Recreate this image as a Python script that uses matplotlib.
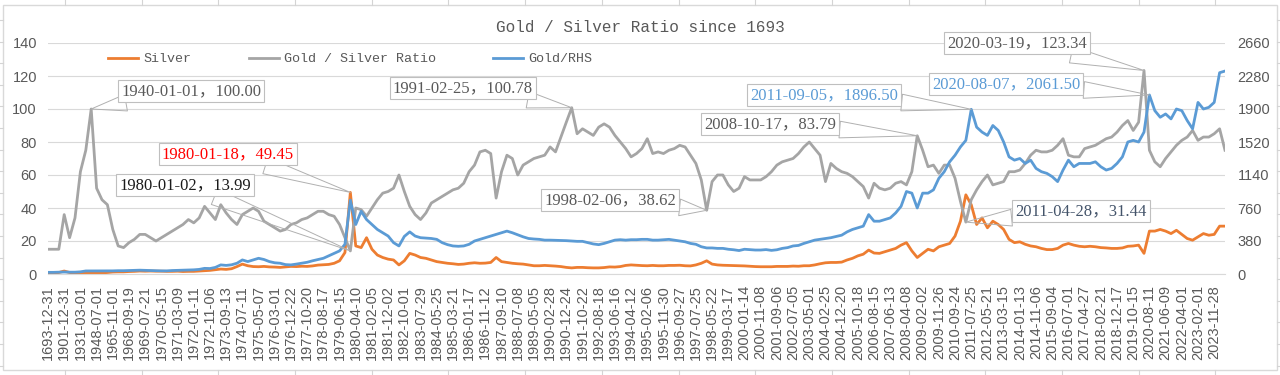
import matplotlib.pyplot as plt
import numpy as np
from matplotlib.lines import Line2D
from matplotlib.patches import Rectangle

plt.rcParams['font.family'] = ['Liberation Sans', 'Noto Sans CJK SC']

tick_labels = [
    "1693-12-31", "1901-12-31", "1931-03-01", "1948-07-01", "1965-11-01", "1968-09-19",
    "1969-07-21", "1970-05-15", "1971-03-09", "1972-01-11", "1972-11-06", "1973-09-13",
    "1974-07-11", "1975-05-07", "1976-03-01", "1976-12-22", "1977-10-20", "1978-08-17",
    "1979-06-15", "1980-04-10", "1981-02-05", "1981-12-02", "1982-10-01", "1983-07-29",
    "1984-05-25", "1985-03-21", "1986-01-17", "1986-11-12", "1987-09-10", "1988-07-08",
    "1989-05-05", "1990-02-28", "1990-12-24", "1991-10-22", "1992-08-18", "1993-06-16",
    "1994-04-12", "1995-02-06", "1995-11-30", "1996-09-27", "1997-07-25", "1998-05-22",
    "1999-03-17", "2000-01-14", "2000-11-08", "2001-09-06", "2002-07-05", "2003-05-01",
    "2004-02-25", "2004-12-20", "2005-10-18", "2006-08-15", "2007-06-13", "2008-04-08",
    "2009-02-02", "2009-11-26", "2010-09-24", "2011-07-25", "2012-05-21", "2013-03-15",
    "2014-01-13", "2014-11-06", "2015-09-04", "2016-07-01", "2017-04-27", "2018-02-21",
    "2018-12-17", "2019-10-15", "2020-08-11", "2021-06-09", "2022-04-01", "2023-02-01",
    "2023-11-28",
]

# values, three readings per labelled category
silver = [
    0.8, 0.8, 0.9, 1.8, 0.9, 0.6, 0.5, 0.4, 0.4, 0.5, 0.7, 0.9,
    1.2, 1.3, 1.3, 1.5, 1.6, 1.8, 1.7, 1.8, 1.7, 1.7, 1.6, 1.6,
    1.7, 1.5, 1.6, 1.6, 1.8, 2.0, 2.2, 2.6, 3.0, 2.8, 3.2, 4.5,
    6.0, 5.0, 4.5, 4.4, 4.6, 4.3, 4.2, 4.0, 4.3, 4.6, 4.5, 4.7,
    4.6, 4.9, 5.4, 5.6, 5.8, 6.5, 8.0, 13.0, 49.45, 17.0, 16.0, 22.0,
    15.0, 11.5, 10.0, 9.0, 8.5, 5.5, 8.0, 12.5, 11.5, 10.0, 9.5, 8.5,
    7.5, 7.0, 6.5, 6.2, 5.8, 6.0, 6.5, 6.8, 6.5, 6.6, 7.0, 10.0,
    7.5, 7.0, 6.5, 6.2, 6.0, 5.5, 5.0, 5.0, 5.2, 5.0, 4.8, 4.5,
    4.0, 3.7, 4.0, 4.0, 3.8, 3.7, 3.7, 3.9, 4.3, 4.2, 4.5, 5.2,
    5.5, 5.3, 5.1, 5.0, 5.2, 5.0, 5.0, 5.2, 5.2, 5.3, 5.0, 4.9,
    5.5, 6.5, 8.0, 6.0, 5.5, 5.3, 5.2, 5.1, 5.0, 4.9, 4.7, 4.5,
    4.4, 4.4, 4.4, 4.6, 4.6, 4.6, 4.8, 4.7, 5.0, 5.0, 5.5, 6.2,
    6.8, 7.0, 7.0, 7.2, 8.5, 9.5, 11.0, 12.0, 14.5, 12.7, 12.5, 13.5,
    14.5, 15.5, 17.5, 19.0, 14.0, 10.0, 12.5, 15.0, 14.0, 16.5, 17.5, 18.5,
    23.0, 32.0, 48.0, 42.0, 30.0, 34.0, 28.0, 32.0, 30.0, 27.0, 21.0, 19.0,
    19.5, 18.0, 17.0, 16.5, 15.5, 14.8, 14.8, 15.5, 17.5, 18.5, 17.5, 16.8,
    16.5, 16.8, 16.5, 16.0, 15.8, 15.5, 15.5, 15.8, 16.8, 17.0, 17.5, 12.5,
    26.0, 26.0, 27.0, 26.0, 24.5, 26.5, 24.0, 21.5, 20.5, 22.5, 24.5, 23.5,
    24.0, 29.0, 29.0,
]

ratio = [
    15, 15, 15, 36, 22, 34, 62, 75, 100.00, 52, 45, 42,
    27, 17, 16, 19, 21, 24, 24, 22, 20, 22, 24, 26,
    28, 30, 33, 31, 34, 41, 37, 33, 42, 37, 33, 30,
    36, 38, 40, 38, 32, 30, 28, 26, 27, 30, 31, 33,
    34, 36, 38, 38, 36, 35, 30, 22, 13.99, 40, 39, 35,
    40, 45, 49, 50, 52, 60, 50, 41, 36, 33, 37, 43,
    45, 47, 49, 51, 52, 55, 62, 66, 74, 75, 73, 46,
    62, 72, 70, 60, 66, 68, 70, 71, 72, 77, 74, 83,
    92, 100.78, 85, 88, 86, 84, 89, 91, 89, 84, 80, 76,
    71, 73, 76, 82, 73, 74, 73, 75, 76, 78, 77, 72,
    67, 57, 38.62, 56, 60, 60, 54, 50, 52, 59, 57, 57,
    57, 59, 62, 66, 68, 69, 70, 73, 77, 80, 76, 72,
    56, 67, 64, 62, 61, 59, 56, 53, 46, 55, 52, 51,
    52, 55, 56, 54, 62, 83.79, 75, 65, 66, 61, 66, 66,
    58, 44, 31.44, 45, 51, 56, 60, 54, 55, 56, 62, 62,
    63, 67, 72, 75, 74, 74, 75, 78, 82, 72, 71, 71,
    76, 77, 78, 80, 82, 83, 86, 90, 93, 87, 92, 123.34,
    75, 68, 65, 70, 74, 78, 81, 83, 87, 81, 83, 83,
    85, 88, 75,
]

gold = [
    19, 19, 21, 23, 21, 21, 25, 35, 35, 35, 35, 35,
    36, 38, 38, 40, 42, 44, 42, 40, 38, 36, 36, 40,
    42, 44, 46, 48, 53, 65, 63, 76, 105, 99, 106, 124,
    162, 143, 162, 181, 167, 143, 129, 124, 108, 105, 114, 125,
    135, 152, 167, 181, 209, 238, 266, 342, 851, 570, 722, 627,
    570, 513, 475, 437, 361, 323, 433, 485, 437, 418, 414, 409,
    399, 361, 338, 323, 319, 323, 342, 380, 399, 418, 437, 456,
    475, 494, 475, 452, 428, 409, 403, 399, 390, 390, 388, 386,
    384, 380, 376, 376, 361, 346, 338, 352, 371, 390, 395, 390,
    395, 395, 399, 399, 390, 390, 395, 399, 390, 380, 371, 352,
    342, 314, 300, 300, 295, 295, 285, 279, 270, 285, 281, 276,
    276, 281, 272, 279, 295, 304, 323, 329, 352, 371, 390, 399,
    409, 418, 433, 447, 485, 513, 532, 551, 684, 608, 608, 627,
    646, 703, 779, 950, 931, 760, 931, 931, 969, 1102, 1178, 1292,
    1368, 1463, 1539, 1896.50, 1691, 1634, 1596, 1710, 1653, 1520, 1349, 1311,
    1330, 1273, 1311, 1216, 1178, 1159, 1121, 1064, 1197, 1311, 1235, 1273,
    1273, 1273, 1292, 1235, 1197, 1216, 1273, 1349, 1520, 1539, 1520, 1634,
    2061.50, 1881, 1805, 1843, 1786, 1900, 1881, 1767, 1672, 1976, 1900, 1919,
    1976, 2318, 2337,
]

# labelled points: (series, sample index, date)
notes = [
    ("ratio", 8, "1940-01-01"),
    ("silver", 56, "1980-01-18"),
    ("ratio", 56, "1980-01-02"),
    ("ratio", 97, "1991-02-25"),
    ("ratio", 122, "1998-02-06"),
    ("ratio", 161, "2008-10-17"),
    ("gold", 171, "2011-09-05"),
    ("ratio", 203, "2020-03-19"),
    ("gold", 204, "2020-08-07"),
    ("ratio", 170, "2011-04-28"),
]
# label box centres (pixels from top-left) and text colours
note_boxes = [(191, 91), (228, 154), (185, 185), (463, 88), (610, 200),
              (770, 124), (824, 95), (1017, 43), (1006, 84), (1081, 211)]
note_colors = ["#595959", "#ff0000", "#1a1a1a", "#595959", "#595959",
               "#595959", "#5b9bd5", "#595959", "#5b9bd5", "#44546a"]

x = np.arange(len(ratio)) / 3
W, H = 1280, 375

fig = plt.figure(figsize=(W / 100, H / 100), dpi=100)

# spreadsheet cells peeking around the chart
for cx in np.arange(65, W, 76.7):
    fig.add_artist(Line2D([cx / W] * 2, [1, 1 - 5 / H], color="#d4d4d4", lw=0.8))
    fig.add_artist(Line2D([cx / W] * 2, [0, 5 / H], color="#d4d4d4", lw=0.8))
for ry in np.arange(20, H, 21.6):
    fig.add_artist(Line2D([0, 3 / W], [1 - ry / H] * 2, color="#d4d4d4", lw=0.8))
    fig.add_artist(Line2D([1 - 3 / W, 1], [1 - ry / H] * 2, color="#d4d4d4", lw=0.8))
fig.add_artist(Rectangle((3 / W, 5 / H), 1274 / W, 365 / H, transform=fig.transFigure,
                         fill=False, ec="#d9d9d9", lw=1))

ax = fig.add_axes([48 / W, 1 - 274 / H, (1225 - 48) / W, (274 - 43) / H])
ax2 = ax.twinx()

l_silver, = ax.plot(x, silver, color="#ed7d31", lw=2, label="Silver")
l_ratio, = ax.plot(x, ratio, color="#a5a5a5", lw=2, label="Gold / Silver Ratio")
l_gold, = ax2.plot(x, gold, color="#5b9bd5", lw=2, label="Gold/RHS")

ax.set_xlim(0, x[-1])
ax.set_ylim(0, 140)
ax2.set_ylim(0, 2660)
ax.set_yticks(range(0, 141, 20))
ax2.set_yticks(range(0, 2661, 380))
ax.set_xticks(range(len(tick_labels)))
ax.set_xticklabels(tick_labels, rotation=90)

ax.grid(axis="y", color="#d9d9d9", lw=0.8)
ax.set_axisbelow(True)
for s in ["top", "left", "right"]:
    ax.spines[s].set_visible(False)
ax.spines["bottom"].set_color("#d9d9d9")
for s in ax2.spines.values():
    s.set_visible(False)

ax.tick_params(axis="x", length=0, pad=8, labelsize=10.5, labelcolor="#595959")
ax.tick_params(axis="y", length=0, pad=8, labelsize=10.5, labelcolor="#595959")
ax2.tick_params(axis="y", length=0, pad=9, labelsize=10.5, labelcolor="#595959")

fig.text(0.5, 1 - 27 / H, "Gold / Silver Ratio since 1693", ha="center", va="center",
         family="Liberation Mono", size=11.5, color="#595959")

ax2.legend([l_silver, l_ratio, l_gold], ["Silver", "Gold / Silver Ratio", "Gold/RHS"],
           ncol=3, loc="center left", bbox_to_anchor=(108 / W, 1 - 59 / H),
           bbox_transform=fig.transFigure, frameon=False,
           prop=dict(family="Liberation Mono", size=9.6), labelcolor="#595959",
           handlelength=2.25, handletextpad=0.4, columnspacing=4.3,
           borderpad=0, borderaxespad=0)

series = {"silver": (silver, ax), "ratio": (ratio, ax), "gold": (gold, ax2)}
for (name, i, date), (bx, by), c in zip(notes, note_boxes, note_colors):
    vals, target = series[name]
    ax2.annotate(f"{date}，{vals[i]:.2f}", xy=(x[i], vals[i]), xycoords=target.transData,
                 xytext=(bx, H - by), textcoords="figure pixels",
                 ha="center", va="center", fontsize=12, color=c,
                 family=["Liberation Serif", "Noto Sans CJK SC"], zorder=10,
                 bbox=dict(boxstyle="square,pad=0.2", fc="white", ec="#bfbfbf", lw=0.8),
                 arrowprops=dict(arrowstyle="wedge,tail_width=1.0,shrink_factor=0.5",
                                 fc="none", ec="#b0b0b0", lw=0.7, shrinkA=0, shrinkB=0))

fig.savefig("out.png", dpi=100, facecolor="white")
